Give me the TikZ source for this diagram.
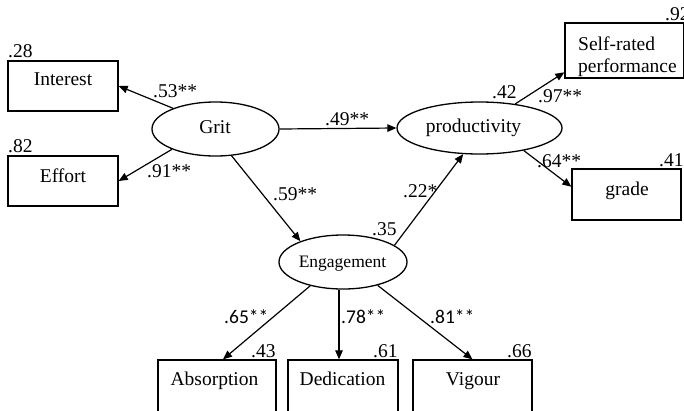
\documentclass[tikz,border=0pt]{standalone}
\usepackage{fontspec}
\setmainfont{Liberation Serif}
\newfontfamily\numsans{Carlito}
\usetikzlibrary{shapes.geometric,arrows.meta,calc}
\tikzset{
  x=1pt,y=-1pt,
  box/.style={draw,line width=1.3pt,rectangle,inner sep=0pt},
  latent/.style={draw,line width=1.3pt,ellipse,inner sep=0pt},
  txt/.style={inner sep=0pt,font=\fontsize{19.5}{22}\selectfont},
  stxt/.style={inner sep=0pt,font=\numsans\fontsize{19.5}{22}\selectfont},
  path/.style={line width=1.2pt,-{Triangle[length=9pt,width=7.5pt]}}
}
\begin{document}
\begin{tikzpicture}
\clip (0,0) rectangle (684,410);
\fill[white] (0,0) rectangle (684,410);
% boxes
\node[box,minimum width=110pt,minimum height=50pt] (interest) at (63,86) {};
\node[box,minimum width=110pt,minimum height=50pt] (effort) at (63,181) {};
\node[box,minimum width=118.5pt,minimum height=55pt] (self) at (624.25,50.5) {};
\node[box,minimum width=109pt,minimum height=51pt] (grade) at (626.5,194.5) {};
\node[box,minimum width=118pt,minimum height=58pt] (absorption) at (217,389) {};
\node[box,minimum width=110pt,minimum height=58pt] (dedication) at (343,389) {};
\node[box,minimum width=119pt,minimum height=58pt] (vigour) at (472.5,389) {};
% latent variables
\node[latent,minimum width=127pt,minimum height=54pt] (grit) at (215.5,129) {};
\node[latent,minimum width=165pt,minimum height=52pt] (prod) at (479.5,128) {};
\node[latent,minimum width=128pt,minimum height=54pt] (eng) at (343,262) {};
% box texts
\node[txt,anchor=base] (tinterest) at (63,85) {Interest};
\node[txt,anchor=base] (teffort) at (63,182) {Effort};
\node[txt,anchor=base west] (tself1) at (578,50) {Self-rated};
\node[txt,anchor=base west] (tself2) at (578,72) {performance};
\node[txt,anchor=base] (tgrade) at (627,195) {grade};
\node[txt,anchor=base] (tabs) at (214.5,385) {Absorption};
\node[txt,anchor=base] (tded) at (342.5,385) {Dedication};
\node[txt,anchor=base] (tvig) at (473,385) {Vigour};
% latent texts
\node[txt,anchor=base] (tgrit) at (215,133) {Grit};
\node[txt,anchor=base] (tprod) at (473.5,132) {productivity};
\node[txt,anchor=base,font=\fontsize{17.5}{20}\selectfont] (teng) at (342.5,267) {Engagement};
% connectors
\draw[path] (grit.154.5) -- (interest.east);
\draw[path] (grit.205.5) -- (effort.east);
\draw[path] (grit.east) -- (prod.west);
\draw[path] (grit.-59) -- (eng.154);
\draw[path] (eng.18) -- (prod.238);
\draw[path] (prod.34) -- (self.200);
\draw[path] (prod.-27) -- (grade.172);
\draw[path] (eng.216) -- ($(absorption.north)+(6,0)$);
\draw[path] ($(eng.south)+(-4,0)$) -- ($(dedication.north)+(-4,0)$);
\draw[path] (eng.-34) -- (vigour.north);
% coefficients
\node[txt,anchor=base west] (c53) at (153,97) {.53**};
\node[txt,anchor=base west] (c91) at (147,177) {.91**};
\node[txt,anchor=base west] (c49) at (325,125) {.49**};
\node[txt,anchor=base west] (c59) at (273,200) {.59**};
\node[txt,anchor=base west] (c22) at (403,197) {.22*};
\node[txt,anchor=base west] (c97) at (538,102) {.97**};
\node[txt,anchor=base west] (c64) at (537,167) {.64**};
\node[stxt,anchor=base west] (c65) at (224,323) {.65**};
\node[stxt,anchor=base west] (c78) at (341,323) {.78**};
\node[stxt,anchor=base west] (c81) at (430,323) {.81**};
% R squared
\node[txt,anchor=base west] (r28) at (8,57) {.28};
\node[txt,anchor=base west] (r82) at (8,152) {.82};
\node[txt,anchor=base west] (r42) at (492,98) {.42};
\node[txt,anchor=base west] (r92) at (665,20) {.92};
\node[txt,anchor=base west] (r41) at (659,166) {.41};
\node[txt,anchor=base west] (r35) at (372,235) {.35};
\node[txt,anchor=base west] (r43) at (251,357) {.43};
\node[txt,anchor=base west] (r61) at (373,357) {.61};
\node[txt,anchor=base west] (r66) at (507,357) {.66};
\end{tikzpicture}
\end{document}
